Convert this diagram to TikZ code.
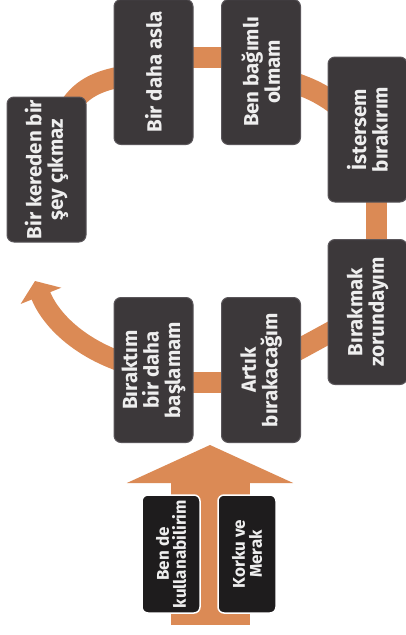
\documentclass[tikz,border=0pt]{standalone}
\usepackage{fontspec}
\setmainfont{Fira Sans}
\usetikzlibrary{arrows.meta,calc}
\definecolor{band}{HTML}{DB8A55}
\definecolor{boxfill}{HTML}{3C383A}
\definecolor{boxedge}{HTML}{5A565A}
\definecolor{darkfill}{HTML}{1E1C1D}
\definecolor{txt}{HTML}{EEEEEE}
\pgfdeclarelayer{back}
\pgfdeclarelayer{bg}
\pgfsetlayers{back,bg,main}
\begin{document}
\begin{tikzpicture}[x=1pt,y=-1pt,
  box/.style={rotate=90, rounded corners=7pt, fill=boxfill, draw=boxedge, line width=1pt,
    text=txt, align=center, inner sep=2pt, minimum width=145pt, minimum height=79pt,
    font=\fontsize{20.5}{21.5}\selectfont\bfseries},
  sbox/.style={rotate=90, rounded corners=6pt, fill=darkfill, draw=white, line width=1.5pt,
    text=txt, align=center, inner sep=2pt, minimum width=118pt, minimum height=58pt,
    font=\fontsize{17}{17}\selectfont\bfseries},
  bandline/.style={draw=band, line width=21pt},
  bigarrow/.style={draw=band, line width=79pt, -{Triangle[width=165pt,length=38pt]}},
  outarrow/.style={draw=band, line width=20pt, -{Triangle[width=43pt,length=16pt]}}
]
\begin{pgfonlayer}{back}
  \fill[white] (0,0) rectangle (406,635);
\end{pgfonlayer}
\useasboundingbox (0,0) rectangle (406,635);

\node[box] (b1) at (46.5,169.5) {Bir kereden bir\\şey çıkmaz};
\node[box] (b2) at (153.5,72) {Bir daha asla};
\node[box] (b3) at (261,72) {Ben bağımlı\\olmam};
\node[box] (b4) at (367.5,129.5) {İstersem\\bırakırım};
\node[box] (b5) at (367.5,312) {Bırakmak\\zorundayım};
\node[box] (b6) at (261,370) {Artık\\bırakacağım};
\node[box] (b7) at (153.5,370) {Bıraktım\\bir daha\\başlamam};
\node[sbox] (b8) at (171,554) {Ben de\\kullanabilirim};
\node[sbox] (b9) at (247,554) {Korku ve\\Merak};

\coordinate (tip) at (35,281);
\coordinate (abase) at (210,625);
\coordinate (atip) at (210,445);

\begin{pgfonlayer}{bg}
  \draw[bandline] (b1.center) .. controls +(20,-85) and +(-65,8) .. (b2.center);
  \draw[bandline] ([yshift=14.5pt]b2.center) -- ([yshift=14.5pt]b3.center);
  \draw[bandline] (b3.center) .. controls ($(b3.center)!0.5!(b4.center)+(6,-10)$) .. (b4.center);
  \draw[bandline] ([xshift=9pt]b4.center) -- ([xshift=9pt]b5.center);
  \draw[bandline] (b5.center) -- (b6.center);
  \draw[bandline] ([yshift=-12.5pt]b6.center) -- ([yshift=-12.5pt]b7.center);
  \draw[outarrow] (b7.center) .. controls +(-60,-10) and +(18,45) .. (tip);
  \draw[bigarrow] (abase) -- (atip);
\end{pgfonlayer}
\end{tikzpicture}
\end{document}
